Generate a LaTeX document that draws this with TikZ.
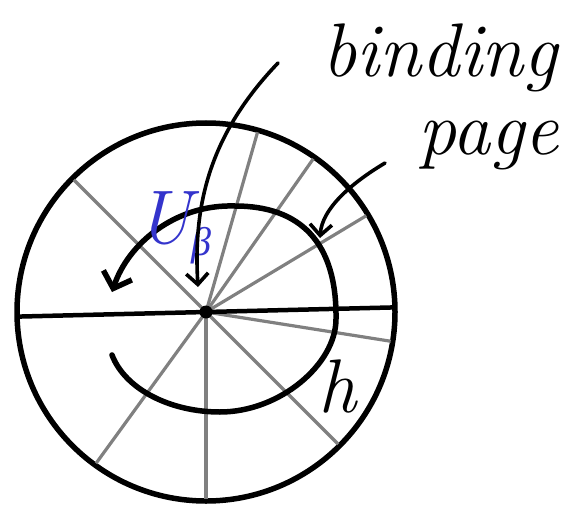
\documentclass[tikz,border=0pt]{standalone}
\usepackage{fontspec}
\usepackage{xcolor}
\usepackage{tikz}
\usetikzlibrary{arrows.meta}

\newfontfamily\grkfont{Liberation Serif}
\definecolor{ubblue}{RGB}{52,52,204}

\begin{document}
\begin{tikzpicture}[
    x=1pt, y=1pt,
    >={Straight Barb[length=11pt, width=22pt]},
    rim/.style={draw, line width=5.5pt},
    axis/.style={draw, line width=4.5pt},
    spoke/.style={draw, gray, line width=3.2pt},
    loopline/.style={draw, line width=5.5pt, line cap=round},
    pointer/.style={->, line width=3.6pt, line cap=round},
    hand/.style={font=\fontsize{76}{80}\selectfont\itshape, inner sep=0pt},
]
\useasboundingbox (0,0) rectangle (577,504);

% Disc
\coordinate (hub) at (206,192);
\draw[rim] (hub) circle[radius=189];
\foreach \a in {135,74,55,31,-9,-45,-90,-126}
    \draw[spoke] (hub) -- ++(\a:187);
\draw[axis] ([shift={(181.4:187)}]hub) -- ([shift={(1.4:187)}]hub);
\fill (hub) circle[radius=6.5];

% Loop around the hub
\draw[loopline, -{Straight Barb[length=14pt, width=30pt]}]
    (112,149) .. controls (125,115) and (170,92) .. (220,92)
              .. controls (280,92) and (336,140) .. (336,185)
              .. controls (337,262) and (300,298) .. (235,298)
              .. controls (175,300) and (128,260) .. (112,212);

% Labels
\node[hand, anchor=base west] (binding) at (322,427) {binding};
\node[hand, anchor=base west] (page) at (418,349) {page};
\node[hand, anchor=base west] (h) at (318,92) {h};
\node[hand, text=ubblue, anchor=base west] (ub) at (136,261)
    {U\raisebox{-12pt}{\fontsize{40}{40}\selectfont\grkfont\itshape β}};

% Pointers
\coordinate (bindtail) at (278,441);
\coordinate (pagetail) at (385,341);
\coordinate (pagetip) at (320,266);
\draw[pointer] (bindtail) .. controls (210,370) and (193,300) .. ([shift={(-8,25)}]hub);
\draw[pointer] (pagetail) .. controls (350,320) and (322,295) .. (pagetip);

\end{tikzpicture}
\end{document}
